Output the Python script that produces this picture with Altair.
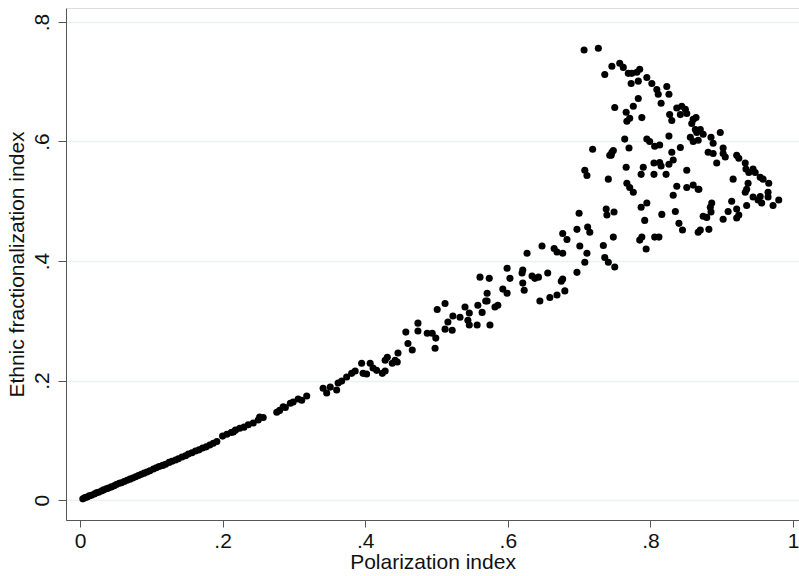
import altair as alt
import pandas as pd

# Lower, tightly packed segment
pol_line = [0.004, 0.007, 0.010, 0.013, 0.016, 0.020, 0.023, 0.026, 0.030, 0.033, 0.037, 0.040,
            0.044, 0.048, 0.051, 0.055, 0.058, 0.062, 0.066, 0.070, 0.074, 0.078, 0.082, 0.086,
            0.090, 0.094, 0.098, 0.103, 0.107, 0.111, 0.116, 0.120, 0.125, 0.129, 0.134, 0.138,
            0.143, 0.148, 0.152, 0.157, 0.162, 0.167, 0.172, 0.177, 0.182, 0.187, 0.192]
eth_line = [0.002, 0.004, 0.005, 0.007, 0.008, 0.010, 0.012, 0.013, 0.015, 0.017, 0.019, 0.020,
            0.022, 0.024, 0.026, 0.028, 0.029, 0.031, 0.033, 0.035, 0.037, 0.039, 0.041, 0.043,
            0.045, 0.047, 0.049, 0.052, 0.054, 0.056, 0.058, 0.060, 0.063, 0.065, 0.067, 0.069,
            0.072, 0.074, 0.077, 0.079, 0.082, 0.084, 0.087, 0.089, 0.092, 0.095, 0.098]

# Middle segment
pol_mid = [0.200, 0.206, 0.212, 0.215, 0.218, 0.224, 0.230, 0.236, 0.243, 0.250, 0.252, 0.257,
           0.276, 0.280, 0.285, 0.288, 0.295, 0.299, 0.306, 0.311, 0.318, 0.341, 0.346, 0.351,
           0.360, 0.362, 0.367, 0.374, 0.381, 0.386, 0.395, 0.397, 0.402, 0.407, 0.411, 0.416,
           0.424, 0.428, 0.438, 0.445, 0.428, 0.431, 0.442, 0.446, 0.457, 0.460, 0.466, 0.474,
           0.474, 0.487, 0.494, 0.499, 0.498, 0.501, 0.512, 0.512, 0.516, 0.522, 0.523, 0.533,
           0.540, 0.546, 0.544, 0.546, 0.557, 0.558, 0.564, 0.571, 0.571, 0.575, 0.582, 0.586,
           0.561, 0.574, 0.569, 0.593, 0.599, 0.599, 0.603]
eth_mid = [0.107, 0.110, 0.113, 0.114, 0.117, 0.120, 0.122, 0.126, 0.129, 0.134, 0.139, 0.138,
           0.147, 0.150, 0.156, 0.155, 0.162, 0.164, 0.169, 0.167, 0.174, 0.187, 0.179, 0.189,
           0.184, 0.196, 0.199, 0.206, 0.212, 0.216, 0.229, 0.212, 0.211, 0.229, 0.221, 0.217,
           0.212, 0.216, 0.229, 0.231, 0.234, 0.239, 0.234, 0.246, 0.281, 0.262, 0.251, 0.296,
           0.283, 0.279, 0.279, 0.271, 0.254, 0.319, 0.329, 0.286, 0.298, 0.284, 0.308, 0.306,
           0.323, 0.313, 0.301, 0.293, 0.293, 0.326, 0.314, 0.333, 0.346, 0.293, 0.323, 0.326,
           0.373, 0.371, 0.333, 0.353, 0.346, 0.388, 0.371]

# Upper, dispersed segment
pol_top = [0.620, 0.621, 0.621, 0.623, 0.627, 0.634, 0.638, 0.643, 0.645, 0.648, 0.656, 0.659,
           0.665, 0.669, 0.669, 0.675, 0.677, 0.677, 0.680, 0.677, 0.683, 0.697, 0.697, 0.700,
           0.701, 0.708, 0.711, 0.712, 0.715, 0.708, 0.711, 0.734, 0.736, 0.741, 0.750, 0.748,
           0.738, 0.739, 0.749, 0.741, 0.743, 0.746, 0.766, 0.767, 0.771, 0.776, 0.787, 0.790,
           0.787, 0.795, 0.792, 0.785, 0.788, 0.794, 0.805, 0.805, 0.813, 0.815, 0.822, 0.826,
           0.832, 0.830, 0.806, 0.812, 0.816, 0.835, 0.832, 0.837, 0.840, 0.845, 0.851, 0.851,
           0.860, 0.867, 0.867,
           0.707, 0.727, 0.736, 0.746, 0.757, 0.762, 0.769, 0.774, 0.781, 0.785, 0.773, 0.783,
           0.795, 0.802, 0.809, 0.811, 0.823, 0.826, 0.815, 0.783, 0.776, 0.766, 0.750, 0.771,
           0.767, 0.788, 0.827, 0.830, 0.837, 0.844, 0.849, 0.842, 0.851, 0.860, 0.864, 0.863,
           0.865, 0.856, 0.867, 0.826, 0.842, 0.813, 0.806, 0.799, 0.795, 0.770, 0.764, 0.748,
           0.745, 0.719,
           0.858, 0.870, 0.874, 0.860, 0.898, 0.885, 0.888, 0.881, 0.888, 0.902, 0.902, 0.905,
           0.893, 0.921, 0.924, 0.933, 0.934, 0.938, 0.944, 0.947, 0.954, 0.958, 0.966, 0.916,
           0.937, 0.935, 0.933, 0.868, 0.965, 0.944, 0.954, 0.951, 0.956, 0.965, 0.980, 0.972,
           0.914, 0.935, 0.921, 0.909, 0.924, 0.921, 0.886, 0.884, 0.885, 0.874, 0.879, 0.902,
           0.882, 0.870]
eth_top = [0.380, 0.385, 0.363, 0.351, 0.413, 0.375, 0.371, 0.373, 0.333, 0.425, 0.380, 0.339,
           0.421, 0.415, 0.343, 0.366, 0.370, 0.446, 0.350, 0.413, 0.436, 0.453, 0.381, 0.480,
           0.425, 0.398, 0.413, 0.457, 0.448, 0.552, 0.543, 0.426, 0.406, 0.398, 0.390, 0.440,
           0.487, 0.477, 0.482, 0.537, 0.577, 0.582, 0.557, 0.530, 0.523, 0.515, 0.545, 0.557,
           0.490, 0.497, 0.468, 0.435, 0.440, 0.420, 0.564, 0.545, 0.565, 0.559, 0.545, 0.562,
           0.569, 0.582, 0.440, 0.440, 0.478, 0.483, 0.510, 0.525, 0.463, 0.452, 0.552, 0.523,
           0.527, 0.520, 0.448,
           0.753, 0.756, 0.712, 0.726, 0.731, 0.724, 0.714, 0.714, 0.716, 0.721, 0.697, 0.701,
           0.707, 0.697, 0.687, 0.679, 0.692, 0.679, 0.664, 0.672, 0.659, 0.649, 0.657, 0.639,
           0.634, 0.640, 0.645, 0.635, 0.656, 0.659, 0.654, 0.645, 0.647, 0.637, 0.640, 0.620,
           0.615, 0.607, 0.602, 0.609, 0.590, 0.594, 0.592, 0.600, 0.604, 0.589, 0.604, 0.585,
           0.577, 0.587,
           0.630, 0.620, 0.612, 0.600, 0.615, 0.607, 0.597, 0.582, 0.580, 0.589, 0.580, 0.574,
           0.564, 0.577, 0.572, 0.564, 0.554, 0.548, 0.554, 0.548, 0.540, 0.537, 0.530, 0.537,
           0.530, 0.520, 0.515, 0.520, 0.515, 0.507, 0.508, 0.502, 0.497, 0.507, 0.502, 0.493,
           0.500, 0.493, 0.487, 0.483, 0.477, 0.472, 0.497, 0.490, 0.482, 0.475, 0.473, 0.470,
           0.453, 0.452]

x_ticks = [0, 0.2, 0.4, 0.6, 0.8, 1.0]
y_ticks = [0, 0.2, 0.4, 0.6, 0.8]

df = pd.DataFrame({
    "pol": pol_line + pol_mid + pol_top,
    "eth": eth_line + eth_mid + eth_top,
})

FONT = "Liberation Sans"
label_expr = "datum.value == 0 ? '0' : datum.value == 1 ? '1' : '.' + format(datum.value * 10, 'd')"

chart = alt.Chart(df).mark_circle(size=50, color="#000000", opacity=1).encode(
    x=alt.X("pol:Q",
            scale=alt.Scale(domain=[-0.0196, 1.0084], nice=False, zero=False),
            axis=alt.Axis(title="Polarization index", values=x_ticks, labelExpr=label_expr,
                          grid=False, domainColor="#555555", tickColor="#555555",
                          tickSize=7, labelPadding=3, labelFontSize=21, titleFontSize=21,
                          labelFont=FONT, titleFont=FONT, labelColor="#111111",
                          titleColor="#111111", titleFontWeight="normal", titlePadding=0)),
    y=alt.Y("eth:Q",
            scale=alt.Scale(domain=[-0.0334, 0.8234], nice=False, zero=False),
            axis=alt.Axis(title="Ethnic fractionalization index", values=y_ticks,
                          labelExpr=label_expr, grid=True, gridColor="#eaf2f3", gridWidth=1.5,
                          domainColor="#555555", tickColor="#555555", tickSize=8,
                          labelAngle=270, labelAlign="center", labelBaseline="bottom",
                          labelPadding=6, labelFontSize=21, titleFontSize=21,
                          labelFont=FONT, titleFont=FONT, labelColor="#111111",
                          titleColor="#111111", titleFontWeight="normal", titlePadding=4)),
).properties(
    width=733, height=512,
    autosize=alt.AutoSizeParams(type="none"),
    padding={"left": 66, "top": 8, "right": 0, "bottom": 56},
).configure_view(stroke=None).configure(background="white")

chart.save("out.html", embed_options={"renderer": "svg", "actions": False})
